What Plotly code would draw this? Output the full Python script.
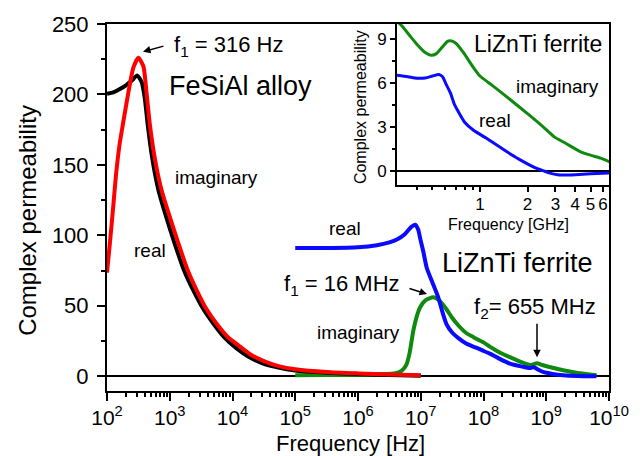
import plotly.graph_objects as go

# ---------------- data ----------------
# FeSiAl alloy, real part (black)
fesial_real_f = [100, 126, 158, 200, 251, 302, 355, 398, 447, 525, 661, 851, 1202, 1660,
                 2399, 3388, 5012, 7413, 11749, 17783, 30903, 56234, 1e5, 3.16e5, 1e6, 3.16e6, 1e7]
fesial_real_v = [200.5, 201.5, 203.7, 206.5, 210, 213.5, 209, 198, 178, 155, 132, 115, 94, 76,
                 60.5, 48, 37, 27.5, 19.5, 14, 9, 6, 4, 2.5, 1.5, 0.8, 0.3]

# FeSiAl alloy, imaginary part (red)
fesial_imag_f = [100, 112, 126, 139, 158, 178, 219, 263, 316, 380, 427, 484, 582, 741, 955, 1380,
                 1905, 2692, 3802, 5623, 8318, 13183, 19953, 34674, 56234, 1e5, 3.16e5, 1e6, 3.16e6, 1e7]
fesial_imag_v = [73.5, 96, 121, 142.7, 164, 178, 201.4, 219, 226, 220, 201, 178, 154, 132, 116, 94,
                 76, 61, 48, 37, 28, 21, 15, 10, 7, 5, 3, 2, 1.2, 0.6]

# LiZnTi ferrite, real part (blue)
lzt_real_f = [1e5, 3.16e5, 1e6, 2e6, 3.16e6, 4.17e6, 5.62e6, 7.08e6, 8.13e6, 9.12e6, 9.77e6, 1.096e7,
              1.245e7, 1.55e7, 1.9e7, 2.2e7, 2.57e7, 3.16e7, 3.98e7, 5.37e7, 7.41e7, 1e8, 1.26e8,
              1.78e8, 2.63e8, 3.98e8, 5.5e8, 6.3e8, 7.24e8, 8.9e8, 1.26e9, 1.86e9, 3.16e9, 6.3e9]
lzt_real_v = [91, 91, 91.5, 93, 95, 97, 101, 106, 107.5, 104, 98, 88.7,
              77, 66, 56, 46, 37, 31, 27, 23, 20.5, 18, 16,
              12.5, 9, 7, 5.8, 6.4, 5, 3, 1.6, 0.7, 0.2, 0]

# LiZnTi ferrite, imaginary part (green)
lzt_imag_f = [1e5, 3.16e5, 1e6, 2.51e6, 3.98e6, 5.01e6, 5.89e6, 6.61e6, 7.59e6, 8.71e6, 9.77e6,
              1.2e7, 1.585e7, 2e7, 2.57e7, 3.16e7, 3.98e7, 5.37e7, 6.92e7, 1e8, 1.26e8, 1.78e8,
              2.63e8, 3.98e8, 5.5e8, 6.31e8, 7.08e8, 8.91e8, 1.26e9, 1.86e9, 3.16e9, 6.31e9]
lzt_imag_v = [0.7, 0.8, 1.0, 1.4, 2.2, 4, 8, 16, 32, 43, 49,
              54, 56, 53.5, 47.5, 41.5, 36, 30.5, 27.7, 24, 21, 17,
              13.5, 10, 7.9, 8.5, 9.2, 7.8, 6, 4.2, 2.3, 0.7]

# Inset (GHz)
inset_real_f = [0.298, 0.35, 0.40, 0.45, 0.50, 0.55, 0.58, 0.61, 0.65, 0.69, 0.74, 0.80, 0.91,
                1.1, 1.4, 1.75, 2.28, 2.5, 2.77, 3.1, 3.5, 4.0, 5.0, 6.6]
inset_real_v = [6.5, 6.4, 6.3, 6.32, 6.45, 6.56, 6.4, 5.9, 5.3, 4.5, 3.9, 3.3, 2.75,
                2.2, 1.45, 0.8, 0.15, 0.0, -0.17, -0.28, -0.3, -0.28, -0.22, -0.17]

inset_imag_f = [0.298, 0.32, 0.36, 0.40, 0.45, 0.49, 0.53, 0.58, 0.62, 0.65, 0.70, 0.78, 0.90,
                1.0, 1.2, 1.55, 2.07, 2.5, 2.95, 3.5, 4.3, 5.0, 5.8, 6.6]
inset_imag_v = [10.2, 9.88, 9.2, 8.6, 8.05, 7.87, 7.98, 8.45, 8.8, 8.85, 8.7, 8.1, 7.1,
                6.45, 5.8, 4.85, 3.75, 3.0, 2.3, 1.85, 1.3, 1.05, 0.85, 0.6]

main_x_ticks = [1e2, 1e3, 1e4, 1e5, 1e6, 1e7, 1e8, 1e9, 1e10]
main_x_text = ["10<sup>2</sup>", "10<sup>3</sup>", "10<sup>4</sup>", "10<sup>5</sup>", "10<sup>6</sup>",
               "10<sup>7</sup>", "10<sup>8</sup>", "10<sup>9</sup>", "10<sup>10</sup>"]
main_y_ticks = [0, 50, 100, 150, 200, 250]
inset_x_ticks = [1, 2, 3, 4, 5, 6]
inset_y_ticks = [0, 3, 6, 9]

# ---------------- figure ----------------
FONT = "Liberation Sans, Arial, sans-serif"
BLUE = "#0a0aff"
GREEN = "#0f8a0f"
RED = "#ff0000"

fig = go.Figure()


def line(x, y, color, width, xa="x", ya="y"):
    fig.add_trace(go.Scatter(x=x, y=y, mode="lines", xaxis=xa, yaxis=ya, hoverinfo="skip",
                             line=dict(color=color, width=width, shape="spline", smoothing=0.6)))


line(lzt_imag_f, lzt_imag_v, GREEN, 4)
line(lzt_real_f, lzt_real_v, BLUE, 4)
line(fesial_real_f, fesial_real_v, "black", 4)
line(fesial_imag_f, fesial_imag_v, RED, 4)
line(inset_imag_f, inset_imag_v, GREEN, 3, "x2", "y2")
line(inset_real_f, inset_real_v, BLUE, 3, "x2", "y2")

L, R, T, B = 107, 609, 20, 391


def P(xp, yp):
    return (xp - L) / (R - L), (B - yp) / (B - T)


main_minor_x = [m * 10 ** e for e in range(2, 10) for m in range(2, 10)]
axis_common = dict(showline=True, linecolor="black", linewidth=2, mirror=True, ticks="outside",
                   tickcolor="black", tickwidth=1.5, showgrid=False)

ix0, _ = P(397, 0)
_, iy0 = P(0, 183)

fig.update_layout(
    width=644, height=456,
    margin=dict(l=L, r=644 - R, t=T, b=456 - B),
    paper_bgcolor="white", plot_bgcolor="white", showlegend=False,
    font=dict(family=FONT, color="black", size=20),
    xaxis=dict(type="log", range=[2, 10], domain=[0, 1], anchor="y", ticklen=8,
               tickvals=main_x_ticks, ticktext=main_x_text, tickfont=dict(size=21),
               ticklabelstandoff=-1, zeroline=False,
               minor=dict(tickvals=main_minor_x, ticks="outside", ticklen=4, tickwidth=1.5,
                          tickcolor="black", showgrid=False),
               **axis_common),
    yaxis=dict(range=[-10.5, 250], domain=[0, 1], anchor="x", ticklen=8,
               tickvals=main_y_ticks, tickfont=dict(size=22), ticklabelstandoff=4,
               zeroline=True, zerolinecolor="black", zerolinewidth=1.5,
               minor=dict(tickvals=[25, 75, 125, 175, 225], ticks="outside", ticklen=4,
                          tickwidth=1.5, tickcolor="black", showgrid=False),
               **axis_common),
    xaxis2=dict(type="log", range=[-0.525, 0.816], domain=[ix0, 1], anchor="y2", ticklen=5,
                tickvals=inset_x_ticks, tickfont=dict(size=17), zeroline=False,
                ticklabelstandoff=-3,
                minor=dict(tickvals=[0.4, 0.5, 0.6, 0.7, 0.8, 0.9], ticks="outside", ticklen=3,
                           tickwidth=1.5, tickcolor="black", showgrid=False),
                **axis_common),
    yaxis2=dict(range=[-1, 10], domain=[iy0, 1], anchor="x2", ticklen=5,
                tickvals=inset_y_ticks, tickfont=dict(size=17),
                zeroline=True, zerolinecolor="black", zerolinewidth=1.5,
                minor=dict(tickvals=[1.5, 4.5, 7.5], ticks="outside", ticklen=3,
                           tickwidth=1.5, tickcolor="black", showgrid=False),
                **axis_common),
)

labels = [
    ("f<sub>1</sub> = 316 Hz", 172, 42, 22, "left", 0),
    ("FeSiAl alloy", 167, 83, 27, "left", 0),
    ("imaginary", 173, 175, 19, "left", 0),
    ("real", 132, 249, 19, "left", 0),
    ("real", 327, 227, 19, "left", 0),
    ("f<sub>1</sub> = 16 MHz", 282, 284, 22, "left", 0),
    ("imaginary", 315, 332, 19, "left", 0),
    ("LiZnTi ferrite", 440, 262, 27, "left", 0),
    ("f<sub>2</sub>= 655 MHz", 472, 307, 22, "left", 0),
    ("LiZnTi ferrite", 472, 40, 23, "left", 0),
    ("imaginary", 514, 83, 19, "left", 0),
    ("real", 477, 118, 19, "left", 0),
    ("Complex permeability", 360, 104, 16, "center", -90),
    ("Frequency [GHz]", 508, 223, 16, "center", 0),
    ("Complex permeability", 28, 219, 24, "center", -90),
    ("Frequency [Hz]", 350, 444, 22, "center", 0),
]
for text, xp, yp, size, anchor, ang in labels:
    xx, yy = P(xp, yp)
    fig.add_annotation(text=text, x=xx, y=yy, xref="paper", yref="paper", xanchor=anchor,
                       yanchor="middle", showarrow=False, textangle=ang,
                       font=dict(size=size, family=FONT, color="black"))

arrows = [(143, 48, 22, -6), (427, 293, -19, -6), (537, 357, 0, -35)]
for hx, hy, ax, ay in arrows:
    xx, yy = P(hx, hy)
    fig.add_annotation(text="", x=xx, y=yy, xref="paper", yref="paper", showarrow=True,
                       ax=ax, ay=ay, arrowhead=2, arrowsize=1, arrowwidth=1.5,
                       arrowcolor="black", standoff=0, startstandoff=0)

fig.write_html("out.html", config={"displayModeBar": False},
               post_script="document.body.style.margin='0';document.body.style.overflow='hidden';")
